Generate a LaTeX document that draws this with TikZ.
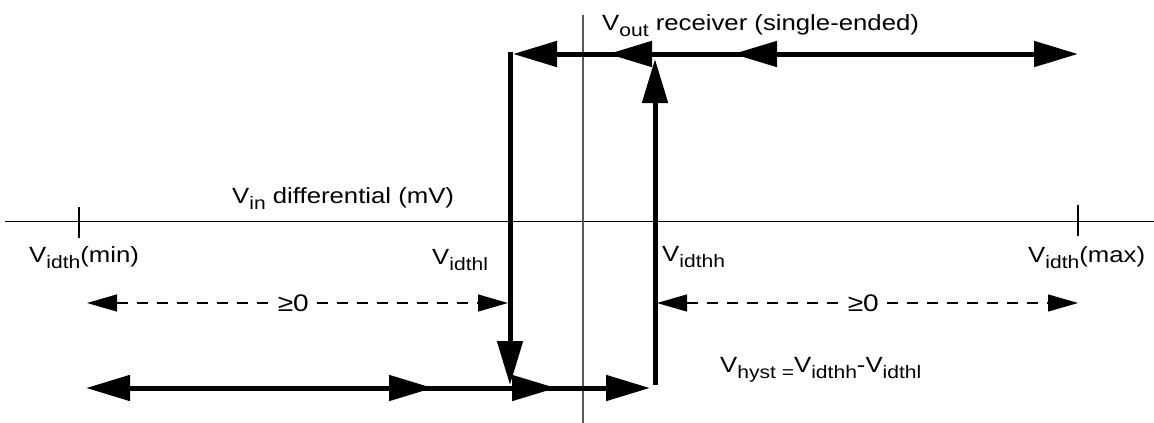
\documentclass[tikz,border=0pt]{standalone}
\usepackage{fontspec}
\setmainfont{Liberation Sans}[FakeStretch=1.17]
\usetikzlibrary{arrows.meta}
\newcommand\sbx[1]{\raisebox{-6.5pt}{\fontsize{18}{18}\selectfont #1}}
\tikzset{
  bigline/.style={line width=5pt},
  bigtip/.tip={Triangle[length=44pt,width=25pt]},
  smalltip/.tip={Triangle[length=30pt,width=17pt]},
  axisline/.style={line width=1.3pt},
  dimline/.style={line width=1.2pt, dash pattern=on 11pt off 9pt},
  lbl/.style={anchor=base west, inner sep=0pt, font=\fontsize{22}{24}\selectfont},
  geq/.style={fill=white, inner xsep=6pt, inner ysep=2pt, font=\fontsize{24}{26}\selectfont}
}
\begin{document}
\begin{tikzpicture}[x=1pt,y=-1pt]
\useasboundingbox (0,0) rectangle (1154,423);
% axes
\coordinate (hxL) at (5,221.5);
\coordinate (hxR) at (1154,221.5);
\coordinate (vxT) at (583,15);
\coordinate (vxB) at (583,423);
\draw[axisline] (hxL) -- (hxR);
\draw[axisline, black!65] (vxT) -- (vxB);
% ticks
\coordinate (tminT) at (79,207);
\coordinate (tminB) at (79,238);
\coordinate (tmaxT) at (1078,205);
\coordinate (tmaxB) at (1078,236);
\draw[line width=1.5pt] (tminT) -- (tminB);
\draw[line width=1.5pt] (tmaxT) -- (tmaxB);
% top line
\coordinate (t1) at (513,54);
\coordinate (t2) at (608,54);
\coordinate (t3) at (733,54);
\coordinate (t4) at (1078,54);
\coordinate (tin) at (1000,54);
\draw[bigline, bigtip-bigtip] (t1) -- (t4);
\draw[bigline, -bigtip] (tin) -- (t3);
\draw[bigline, -bigtip] (tin) -- (t2);
% bottom line
\coordinate (b1) at (86,388);
\coordinate (b2) at (433,388);
\coordinate (b3) at (556,388);
\coordinate (b4) at (650,388);
\coordinate (bin) at (160,388);
\draw[bigline, bigtip-bigtip] (b1) -- (b4);
\draw[bigline, -bigtip] (bin) -- (b2);
\draw[bigline, -bigtip] (bin) -- (b3);
% verticals
\coordinate (lvT) at (510,51.5);
\coordinate (lvB) at (510,385);
\coordinate (rvB) at (655,385);
\coordinate (rvT) at (655,59);
\draw[bigline, -bigtip] (lvT) -- (lvB);
\draw[bigline, -bigtip] (rvB) -- (rvT);
% dimension arrows
\coordinate (d1L) at (87,303);
\coordinate (d1R) at (508,303);
\coordinate (d2L) at (657,303);
\coordinate (d2R) at (1078,303);
\draw[dimline, smalltip-smalltip] (d1L) -- node[geq, pos=0.49] (g1) {≥0} (d1R);
\draw[dimline, smalltip-smalltip] (d2L) -- node[geq, pos=0.49] (g2) {≥0} (d2R);
% labels
\node[lbl] (vout) at (602,30) {V\sbx{out} receiver (single-ended)};
\node[lbl] (vin) at (232,203) {V\sbx{in} differential (mV)};
\node[lbl] (vmin) at (29,262) {V\sbx{idth}(min)};
\node[lbl] (vl) at (432,264) {V\sbx{idthl}};
\node[lbl] (vh) at (662,261) {V\sbx{idthh}};
\node[lbl] (vmax) at (1028,262) {V\sbx{idth}(max)};
\node[lbl] (vhy) at (720,372) {V\sbx{hyst =}V\sbx{idthh}-V\sbx{idthl}};
\end{tikzpicture}
\end{document}
